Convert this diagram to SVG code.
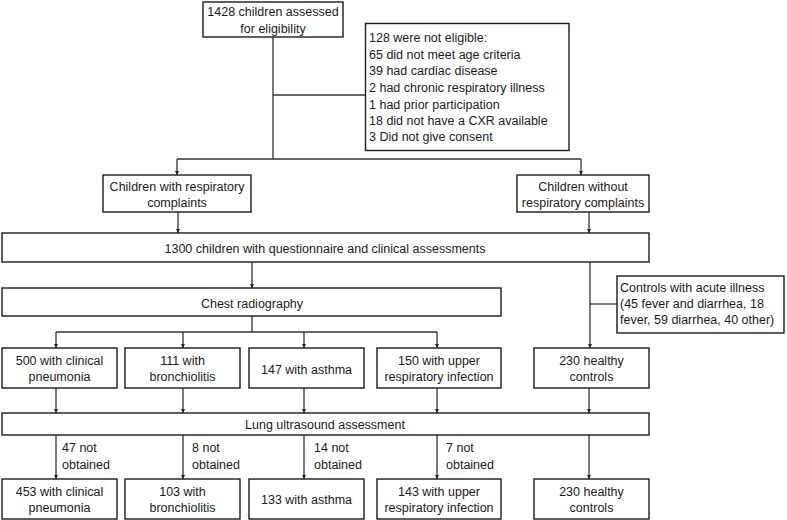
<svg xmlns="http://www.w3.org/2000/svg" width="787" height="520" viewBox="0 0 787 520">
<style>
.box{fill:#fff;stroke:#1a1a1a;stroke-width:1.4}
.t{font-family:"Liberation Sans",Arial,sans-serif;font-size:12.5px;fill:#1a1a1a}
.c{text-anchor:middle}
.ln{fill:none;stroke:#333;stroke-width:1.3}
</style>
<defs>
<marker id="ah" viewBox="0 0 8 8" refX="8" refY="4" markerWidth="4" markerHeight="4" markerUnits="userSpaceOnUse" orient="auto">
<path d="M0,0 L8,4 L0,8 z" fill="#222"/>
</marker>
</defs>
<rect width="787" height="520" fill="#fff"/>
<g id="connectors">
<path class="ln" d="M273,37 V159"/>
<path class="ln" d="M273,95 H365"/>
<path class="ln" d="M177,159 H581"/>
<path class="ln" d="M177,159 V175" marker-end="url(#ah)"/>
<path class="ln" d="M581,159 V175" marker-end="url(#ah)"/>
<path class="ln" d="M178,212 V233" marker-end="url(#ah)"/>
<path class="ln" d="M589,212 V233" marker-end="url(#ah)"/>
<path class="ln" d="M252,262 V288" marker-end="url(#ah)"/>
<path class="ln" d="M590,262 V348" marker-end="url(#ah)"/>
<path class="ln" d="M590,304 H617"/>
<path class="ln" d="M252,316 V332"/>
<path class="ln" d="M56,332 H437"/>
<path class="ln" d="M56,332 V348" marker-end="url(#ah)"/>
<path class="ln" d="M183,332 V348" marker-end="url(#ah)"/>
<path class="ln" d="M304,332 V348" marker-end="url(#ah)"/>
<path class="ln" d="M437,332 V348" marker-end="url(#ah)"/>
<path class="ln" d="M56,388 V413" marker-end="url(#ah)"/>
<path class="ln" d="M183,388 V413" marker-end="url(#ah)"/>
<path class="ln" d="M304,388 V413" marker-end="url(#ah)"/>
<path class="ln" d="M437,388 V413" marker-end="url(#ah)"/>
<path class="ln" d="M589,388 V413" marker-end="url(#ah)"/>
<path class="ln" d="M56,435 V479" marker-end="url(#ah)"/>
<path class="ln" d="M183,435 V479" marker-end="url(#ah)"/>
<path class="ln" d="M304,435 V479" marker-end="url(#ah)"/>
<path class="ln" d="M437,435 V479" marker-end="url(#ah)"/>
<path class="ln" d="M589,435 V479" marker-end="url(#ah)"/>
<text class="t" x="62" y="452">47 not</text>
<text class="t" x="62" y="468.5">obtained</text>
<text class="t" x="192" y="452">8 not</text>
<text class="t" x="192" y="468.5">obtained</text>
<text class="t" x="314" y="452">14 not</text>
<text class="t" x="314" y="468.5">obtained</text>
<text class="t" x="446" y="452">7 not</text>
<text class="t" x="446" y="468.5">obtained</text>
</g>
<g id="assessed">
<rect class="box" x="203" y="2" width="140" height="35"/>
<text class="t c" x="273" y="16">1428 children assessed</text>
<text class="t c" x="273" y="32.5">for eligibility</text>
</g>
<g id="excluded">
<rect class="box" x="365.5" y="23.5" width="203.5" height="127"/>
<text class="t" x="369" y="42">128 were not eligible:</text>
<text class="t" x="369" y="58.5">65 did not meet age criteria</text>
<text class="t" x="369" y="75">39 had cardiac disease</text>
<text class="t" x="369" y="91.5">2 had chronic respiratory illness</text>
<text class="t" x="369" y="108.5">1 had prior participation</text>
<text class="t" x="369" y="125">18 did not have a CXR available</text>
<text class="t" x="369" y="141">3 Did not give consent</text>
</g>
<g id="resp">
<rect class="box" x="103" y="175" width="148" height="37"/>
<text class="t c" x="177" y="190.5">Children with respiratory</text>
<text class="t c" x="177" y="207">complaints</text>
</g>
<g id="nonresp">
<rect class="box" x="517" y="175" width="132" height="37"/>
<text class="t c" x="583" y="190.5">Children without</text>
<text class="t c" x="583" y="207">respiratory complaints</text>
</g>
<g id="q1300">
<rect class="box" x="2" y="233" width="647" height="29"/>
<text class="t c" x="325" y="252.5">1300 children with questionnaire and clinical assessments</text>
</g>
<g id="chest">
<rect class="box" x="2" y="288" width="499" height="28"/>
<text class="t c" x="252" y="307.5">Chest radiography</text>
</g>
<g id="acute">
<rect class="box" x="617" y="276" width="167" height="57"/>
<text class="t" x="620" y="292">Controls with acute illness</text>
<text class="t" x="620" y="308">(45 fever and diarrhea, 18</text>
<text class="t" x="620" y="324">fever, 59 diarrhea, 40 other)</text>
</g>
<g id="pneu1">
<rect class="box" x="2" y="348" width="115" height="40"/>
<text class="t c" x="59.5" y="365">500 with clinical</text>
<text class="t c" x="59.5" y="381">pneumonia</text>
</g>
<g id="bron1">
<rect class="box" x="125" y="348" width="115" height="40"/>
<text class="t c" x="182.5" y="365">111 with</text>
<text class="t c" x="182.5" y="381">bronchiolitis</text>
</g>
<g id="asth1">
<rect class="box" x="249" y="348" width="115" height="40"/>
<text class="t c" x="306.5" y="373.5">147 with asthma</text>
</g>
<g id="uri1">
<rect class="box" x="377" y="348" width="124" height="40"/>
<text class="t c" x="439" y="365">150 with upper</text>
<text class="t c" x="439" y="381">respiratory infection</text>
</g>
<g id="healthy1">
<rect class="box" x="534" y="348" width="115" height="40"/>
<text class="t c" x="591.5" y="365">230 healthy</text>
<text class="t c" x="591.5" y="381">controls</text>
</g>
<g id="lung">
<rect class="box" x="2" y="413" width="647" height="22"/>
<text class="t c" x="325" y="428.5">Lung ultrasound assessment</text>
</g>
<g id="pneu2">
<rect class="box" x="2" y="479" width="115" height="40"/>
<text class="t c" x="59.5" y="496">453 with clinical</text>
<text class="t c" x="59.5" y="512">pneumonia</text>
</g>
<g id="bron2">
<rect class="box" x="125" y="479" width="115" height="40"/>
<text class="t c" x="182.5" y="496">103 with</text>
<text class="t c" x="182.5" y="512">bronchiolitis</text>
</g>
<g id="asth2">
<rect class="box" x="249" y="479" width="115" height="40"/>
<text class="t c" x="306.5" y="504">133 with asthma</text>
</g>
<g id="uri2">
<rect class="box" x="377" y="479" width="124" height="40"/>
<text class="t c" x="439" y="496">143 with upper</text>
<text class="t c" x="439" y="512">respiratory infection</text>
</g>
<g id="healthy2">
<rect class="box" x="534" y="479" width="115" height="40"/>
<text class="t c" x="591.5" y="496">230 healthy</text>
<text class="t c" x="591.5" y="512">controls</text>
</g>
</svg>
